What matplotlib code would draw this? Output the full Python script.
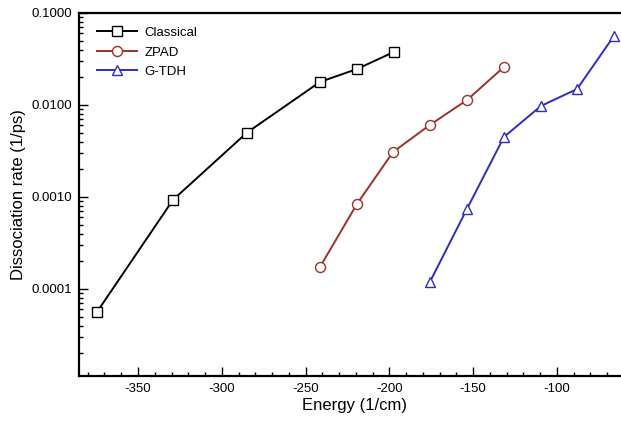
"""Dissociation rate vs energy, log scale."""

import matplotlib
matplotlib.use("Agg")
import matplotlib.pyplot as plt
from matplotlib.ticker import MultipleLocator, LogLocator, NullFormatter

plt.rcParams["font.family"] = ["Liberation Sans", "DejaVu Sans"]
plt.rcParams["axes.unicode_minus"] = False

# values
classical_e = [-374.5, -329.1, -285.0, -241.4, -219.3, -197.3]
classical_k = [5.6e-5, 9.3e-4, 5.0e-3, 0.0178, 0.0246, 0.0377]

zpad_e = [-241.4, -219.3, -197.8, -175.8, -153.7, -131.6]
zpad_k = [1.73e-4, 8.4e-4, 3.08e-3, 6.07e-3, 0.0113, 0.0259]

gtdh_e = [-175.8, -153.7, -131.6, -109.5, -88.0, -66.0]
gtdh_k = [1.19e-4, 7.4e-4, 4.49e-3, 9.76e-3, 0.0149, 0.0562]

x_ticks = [-350, -300, -250, -200, -150, -100]
y_ticks = [0.1, 0.01, 0.001, 0.0001]
y_labels = ["0.1000", "0.0100", "0.0010", "0.0001"]

W, H = 621, 426
fig = plt.figure(figsize=(W / 100, H / 100), dpi=100)
# axes runs a little past the right edge, as the reference is cropped there
left, right, top, bottom = 79, 631, 13, 376
ax = fig.add_axes([left / W, 1 - bottom / H, (right - left) / W, (bottom - top) / H])

ms = 7.2
lw = 1.4
ax.plot(classical_e, classical_k, "-s", color="black", lw=lw, ms=ms,
        mfc="white", mec="black", mew=1.0, label="Classical")
ax.plot(zpad_e, zpad_k, "-o", color="#9c3326", lw=lw, ms=ms,
        mfc="white", mec="#9c3326", mew=1.0, label="ZPAD")
ax.plot(gtdh_e, gtdh_k, "-^", color="#2d2dc0", lw=lw, ms=ms + 0.5,
        mfc="white", mec="#2d2dc0", mew=1.0, label="G-TDH")

ax.set_yscale("log")
ax.set_xlim(-385.2, -55.8)
ax.set_ylim(1.13e-5, 0.1)

ax.set_xticks(x_ticks, [str(v) for v in x_ticks])
ax.xaxis.set_minor_locator(MultipleLocator(10))
ax.set_yticks(y_ticks, y_labels)
ax.yaxis.set_minor_locator(LogLocator(base=10, subs=range(2, 10)))
ax.yaxis.set_minor_formatter(NullFormatter())

ax.tick_params(which="both", direction="in", labelsize=9.5, width=1.0)
ax.tick_params(which="major", length=6.5, pad=5)
ax.tick_params(which="minor", length=3)
ax.tick_params(top=False, right=False)
for sp in ax.spines.values():
    sp.set_linewidth(1.6)

ax.set_xlabel("Energy (1/cm)", fontsize=12, labelpad=2)
ax.set_ylabel("Dissociation rate (1/ps)", fontsize=12, labelpad=4)

ax.legend(loc="upper left", bbox_to_anchor=(0.0326, 0.962), frameon=False,
          fontsize=9.5, handlelength=3.0, handletextpad=0.6,
          labelspacing=0.55, borderpad=0, borderaxespad=0, numpoints=1)

fig.savefig("out.png", dpi=100)
plt.close(fig)
